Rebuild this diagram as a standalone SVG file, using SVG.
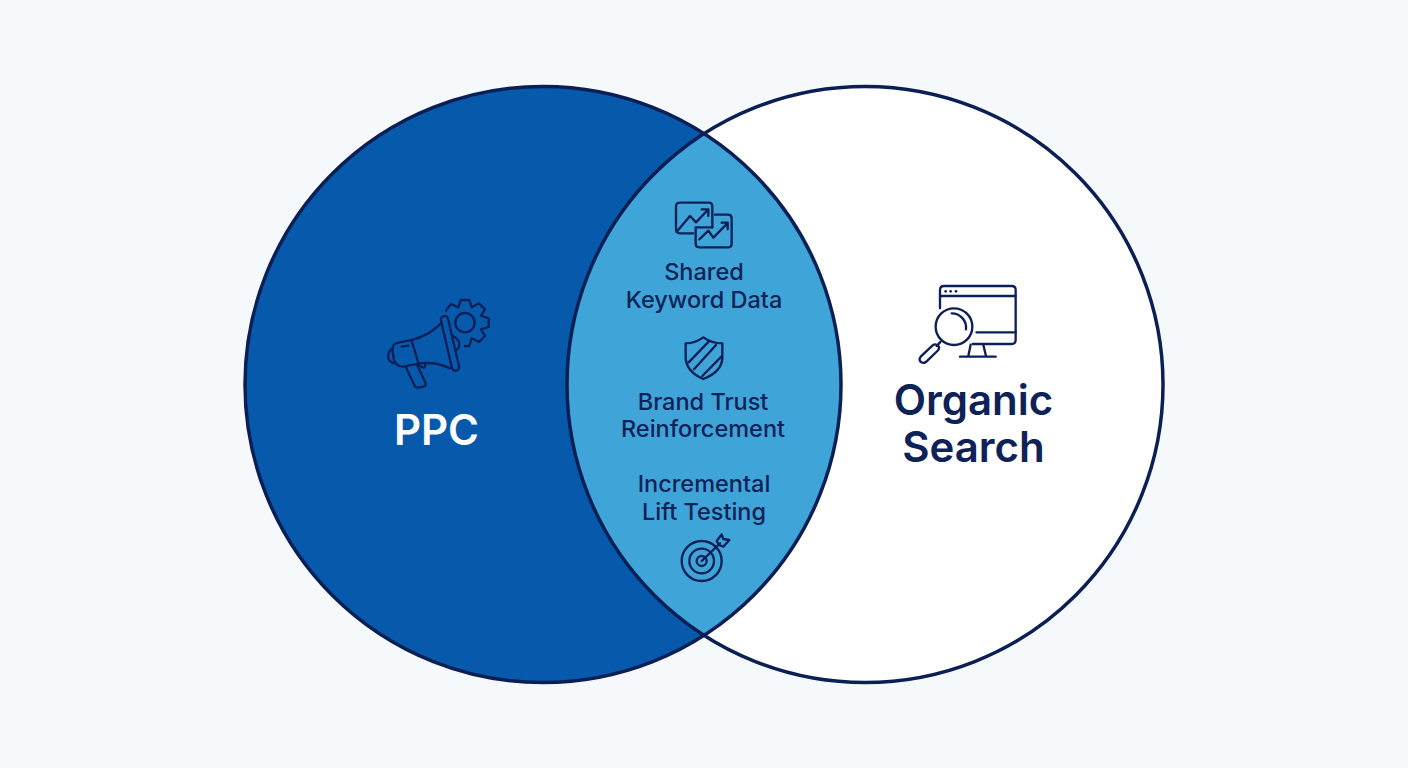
<svg xmlns="http://www.w3.org/2000/svg" width="1408" height="768" viewBox="0 0 1408 768">
<style>
.o{fill:none;stroke:#0b1f55;stroke-width:3.5}
.z{fill:none;stroke:#0c2058;stroke-width:7;stroke-linecap:round;stroke-linejoin:round}
.t{font-family:Inter,"Liberation Sans",sans-serif;text-anchor:middle}
.l{font-size:23.5px;font-weight:500;fill:#0f2257}
.h{font-size:42px;font-weight:600}
</style>
<rect width="1408" height="768" fill="#f5f9fb"/>
<g id="venn">
<circle cx="543" cy="384.5" r="298" fill="#075aab"/>
<circle cx="865" cy="384.5" r="298" fill="#ffffff"/>
<path d="M704 133.5 A298 298 0 0 1 704 635.5 A298 298 0 0 1 704 133.5 Z" fill="#3fa5d9"/>
<circle cx="543" cy="384.5" r="298" class="o"/>
<circle cx="865" cy="384.5" r="298" class="o"/>
</g>
<g id="ppc">
<g transform="translate(370 280) scale(.3333)">
<g class="z">
<rect x="229" y="106" width="22" height="168" rx="11" transform="rotate(-13 240 190)"/>
<path d="M215 128Q170 175 100 185L78 190Q66 193 68 215L72 240Q76 258 100 260L150 250Q200 245 240 265"/>
<path d="M125 182L146 252"/>
<path d="M67 205Q52 215 55 235Q60 250 78 250"/>
<path d="M95 200L115 197"/>
<path d="M108 262L135 320Q145 326 165 318Q171 312 165 305L141 254"/>
<path d="M146 255Q165 272 166 254"/>
<path d="M250 168Q270 180 268 195Q265 210 255 212"/>
<circle cx="285" cy="128" r="29"/>
<path d="M228 92L243 72L265 82L272 60L298 60L305 82L327 70L345 88L333 107L356 115L356 141L333 148L345 168L327 186L305 175L298 198L285 198"/>
</g>
</g>
<text x="436.5" y="445" class="t h" fill="#ffffff">PPC</text>
</g>
<g id="organic">
<g transform="translate(900 270) scale(.3333)">
<g class="z">
<path d="M120 115L120 60Q120 48 132 48L335 48Q347 48 347 60L347 210Q347 222 335 222L218 222"/>
<path d="M120 78L347 78"/>
<path d="M230 187L347 187"/>
<path d="M212 224L205 258M250 224L258 258M180 260L287 260"/>
<circle cx="162" cy="170" r="55"/>
<path d="M155 130A43 43 0 0 1 198 178"/>
<path d="M122 215L110 228"/>
<path d="M98 226L62 260Q55 270 63 276Q72 282 80 274L115 240Q120 232 114 227Q106 220 98 226Z"/>
</g>
<circle cx="137" cy="64" r="4" fill="#0c2058"/><circle cx="152" cy="64" r="4" fill="#0c2058"/><circle cx="168" cy="64" r="4" fill="#0c2058"/>
</g>
<text class="t h" fill="#0f2257"><tspan x="973.5" y="415">Organic</tspan><tspan x="973.5" y="462">Search</tspan></text>
</g>
<g id="shared-keyword-data">
<g transform="translate(660 190) scale(.3333)" class="z">
<path d="M100 130L60 130Q48 130 48 118L48 50Q48 38 60 38L147 38Q157 38 157 50L157 112"/>
<path d="M50 125L90 78L108 97L143 60M125 58L145 58L145 78"/>
<path d="M165 74L205 74Q215 74 215 85L215 160Q215 172 205 172L118 172Q107 172 107 160L107 112L157 112"/>
<path d="M118 148L145 122L160 143L202 100M185 98L203 98L203 118"/>
</g>
<text class="t l"><tspan x="704" y="280">Shared</tspan><tspan x="704" y="308">Keyword Data</tspan></text>
</g>
<g id="brand-trust">
<g transform="translate(670 330) scale(.3333)" class="z">
<path d="M100 22Q125 40 157 40L157 85Q155 125 100 147Q50 125 47 85L47 40Q75 40 100 22Z"/>
<path d="M56 97L116 35M72 118L138 45M97 138L154 80"/>
</g>
<text class="t l"><tspan x="703" y="410">Brand Trust</tspan><tspan x="703" y="437">Reinforcement</tspan></text>
</g>
<g id="incremental-lift">
<text class="t l"><tspan x="704" y="492">Incremental</tspan><tspan x="704" y="520">Lift Testing</tspan></text>
<g transform="translate(670 525) scale(.3333)" class="z">
<circle cx="95" cy="108" r="60"/><circle cx="95" cy="108" r="37"/><circle cx="95" cy="108" r="15"/>
<path d="M95 108L150 55"/>
<path d="M140 48L155 28L160 42L178 45L160 65L147 60Z"/>
</g>
</g>
</svg>
